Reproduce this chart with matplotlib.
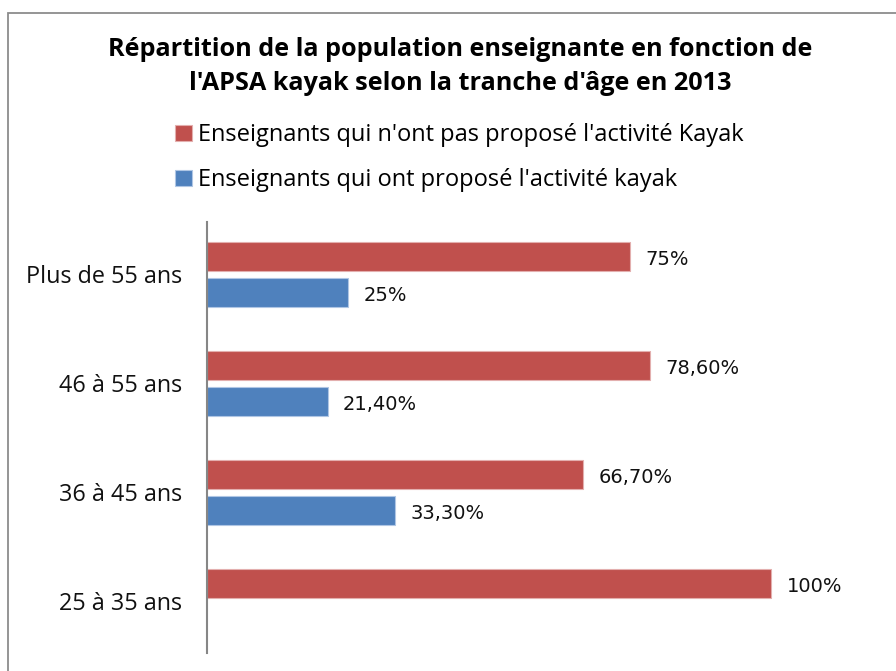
import matplotlib.pyplot as plt
import matplotlib.patches as mpatches
import numpy as np

# data, bottom to top as in the chart
categories = ['25 à 35 ans', '36 à 45 ans', '46 à 55 ans', 'Plus de 55 ans']
pas_propose = [100, 66.7, 78.6, 75]
propose = [0, 33.3, 21.4, 25]
serie_labels = ["Enseignants qui n'ont pas proposé l'activité Kayak",
                "Enseignants qui ont proposé l'activité kayak"]

RED = '#C0504D'
BLUE = '#4F81BD'


def fmt(v):
    if float(v).is_integer():
        return '%d%%' % v
    return ('%.2f%%' % v).replace('.', ',')


W, H = 896, 671
fig = plt.figure(figsize=(W / 100, H / 100), dpi=100)
ax = fig.add_axes([207 / W, 1 - 653 / H, (884 - 207) / W, (653 - 222) / H])

y = np.arange(len(categories))
h = 0.266
off = 0.165

b1 = ax.barh(y + off, pas_propose, height=h, color=RED, edgecolor='#E3AFAE', linewidth=0.8,
             label=serie_labels[0])
keep = [i for i, v in enumerate(propose) if v > 0]
b2 = ax.barh(y[keep] - off, [propose[i] for i in keep], height=h, color=BLUE,
             edgecolor='#AFC6E4', linewidth=0.8, label=serie_labels[1])

for i, v in enumerate(pas_propose):
    ax.annotate(fmt(v), (v, y[i] + off), xytext=(11, -2), textcoords='offset points',
                va='center', ha='left', fontsize=14, family='DejaVu Sans', color='#111111')
for i in keep:
    v = propose[i]
    ax.annotate(fmt(v), (v, y[i] - off), xytext=(11, -2), textcoords='offset points',
                va='center', ha='left', fontsize=14, family='DejaVu Sans', color='#111111')

ax.set_xlim(0, 120)
ax.set_ylim(-0.474, 3.48)
ax.set_yticks(y)
ax.set_yticklabels(categories, fontsize=16.8, family='Open Sans', color='#111111')
ax.tick_params(axis='y', length=0, pad=18)
ax.set_xticks([])
for s in ['top', 'right', 'bottom']:
    ax.spines[s].set_visible(False)
ax.spines['left'].set_color('#868686')
ax.spines['left'].set_linewidth(1.5)

# title
fig.text(460 / W, 1 - 56 / H, "Répartition de la population enseignante en fonction de",
         ha='center', va='baseline', fontsize=18.2, fontweight='bold', family='Open Sans')
fig.text(460 / W, 1 - 90 / H, "l'APSA kayak selon la tranche d'âge en 2013",
         ha='center', va='baseline', fontsize=18.2, fontweight='bold', family='Open Sans')

# legend
fig.legend(handles=[b1, b2], loc='upper left', bbox_to_anchor=(175 / W, 1 - 123 / H),
           frameon=False, prop={'family': 'Open Sans', 'size': 17}, borderpad=0, borderaxespad=0,
           handlelength=0.72, handleheight=0.68, handletextpad=0.25, labelspacing=0.89)

# chart frame
fig.add_artist(mpatches.Rectangle((7.5 / W, -0.1), 2, 1.1 - 13 / H, transform=fig.transFigure,
                                  fill=False, edgecolor='#8C8C8C', linewidth=1.3))

fig.savefig('out.png', dpi=100)
